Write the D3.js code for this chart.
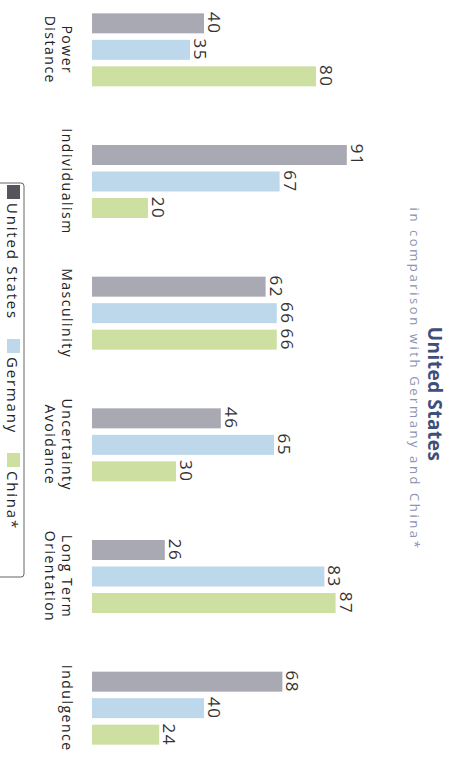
<!DOCTYPE html>
<html>
<head>
  <meta charset="utf-8">
  <title>United States in comparison with Germany and China</title>
  <script src="https://d3js.org/d3.v7.min.js"></script>
  <style>
    body { margin: 0; background: #fff; }
    text { font-family: "Open Sans", sans-serif; }
  </style>
</head>
<body>

  <svg width="454" height="764"></svg>

  <script>
    // Data
    const categories = ["Power Distance", "Individualism", "Masculinity",
                        "Uncertainty Avoidance", "Long Term Orientation", "Indulgence"];
    const categoryLines = [["Power", "Distance"], ["Individualism"], ["Masculinity"],
                           ["Uncertainty", "Avoidance"], ["Long Term", "Orientation"], ["Indulgence"]];
    const seriesNames = ["United States", "Germany", "China*"];
    const unitedStates = [40, 91, 62, 46, 26, 68];
    const germany = [35, 67, 66, 65, 83, 40];
    const china = [80, 20, 66, 30, 87, 24];
    const seriesValues = [unitedStates, germany, china];
    const colors = ["#a9a9b3", "#bcd8ea", "#cde0a2"];
    const legendColors = ["#55555c", "#bcd8ea", "#cde0a2"];

    // the chart is drawn landscape then turned a quarter clockwise
    const W = 764, H = 454;
    const svg = d3.select("svg");
    const g = svg.append("g")
      .attr("transform", `translate(${H},0) rotate(90)`);

    const x0 = d3.scaleBand()
      .domain(categories)
      .range([-16, 774])
      .padding(0);

    const groupW = 73;
    const x1 = d3.scaleBand()
      .domain(seriesNames)
      .range([x0.bandwidth() / 2 - groupW / 2, x0.bandwidth() / 2 + groupW / 2])
      .paddingInner(0.245)
      .paddingOuter(0);

    const y = d3.scaleLinear()
      .domain([0, 100])
      .range([362, 82]);

    const rows = categories.map((c, i) => ({
      cat: c,
      vals: seriesNames.map((s, j) => ({ series: s, j: j, value: seriesValues[j][i] }))
    }));

    const groups = g.selectAll(".grp")
      .data(rows)
      .enter()
      .append("g")
      .attr("class", "grp")
      .attr("transform", d => `translate(${x0(d.cat)},0)`);

    groups.selectAll("rect")
      .data(d => d.vals)
      .enter()
      .append("rect")
      .attr("x", d => x1(d.series))
      .attr("y", d => y(d.value))
      .attr("width", x1.bandwidth())
      .attr("height", d => y(0) - y(d.value))
      .attr("fill", d => colors[d.j]);

    groups.selectAll(".val")
      .data(d => d.vals)
      .enter()
      .append("text")
      .attr("class", "val")
      .attr("x", d => x1(d.series) + x1.bandwidth() / 2)
      .attr("y", d => y(d.value) - 4)
      .attr("text-anchor", "middle")
      .attr("font-size", 17)
      .attr("letter-spacing", 1.5)
      .attr("fill", "#333")
      .text(d => d.value);

    // category labels
    g.selectAll(".cat")
      .data(categories)
      .enter()
      .append("text")
      .attr("class", "cat")
      .attr("text-anchor", "middle")
      .attr("font-size", 14)
      .attr("letter-spacing", 1.5)
      .attr("fill", "#222")
      .each(function (d, i) {
        const t = d3.select(this);
        categoryLines[i].forEach((line, k) => {
          t.append("tspan")
            .attr("x", x0(d) + x0.bandwidth() / 2)
            .attr("y", 392 + k * 17)
            .text(line);
        });
      });

    // title
    g.append("text")
      .attr("x", 394)
      .attr("y", 26)
      .attr("text-anchor", "middle")
      .attr("font-size", 19)
      .attr("font-weight", "bold")
      .attr("letter-spacing", 0.5)
      .attr("fill", "#3f4f7c")
      .text("United States");

    g.append("text")
      .attr("x", 379)
      .attr("y", 44)
      .attr("text-anchor", "middle")
      .attr("font-size", 13)
      .attr("letter-spacing", 2.6)
      .attr("fill", "#8a93b2")
      .text("in comparison with Germany and China*");

    // legend
    const legendTop = 183, legendBottom = 577;
    g.append("rect")
      .attr("x", legendTop)
      .attr("y", 430)
      .attr("width", legendBottom - legendTop)
      .attr("height", 40)
      .attr("rx", 3)
      .attr("fill", "#fff")
      .attr("stroke", "#666");

    const legend = g.append("g");
    let pos = 185;
    seriesNames.forEach((s, j) => {
      legend.append("rect")
        .attr("x", pos)
        .attr("y", 434)
        .attr("width", 14)
        .attr("height", 13)
        .attr("fill", legendColors[j]);
      const t = legend.append("text")
        .attr("x", pos + 18)
        .attr("y", 447)
        .attr("font-size", 15)
        .attr("letter-spacing", 1.8)
        .attr("fill", "#222")
        .text(s);
      pos += 18 + t.node().getComputedTextLength() + 19;
    });
  </script>

</body>
</html>
